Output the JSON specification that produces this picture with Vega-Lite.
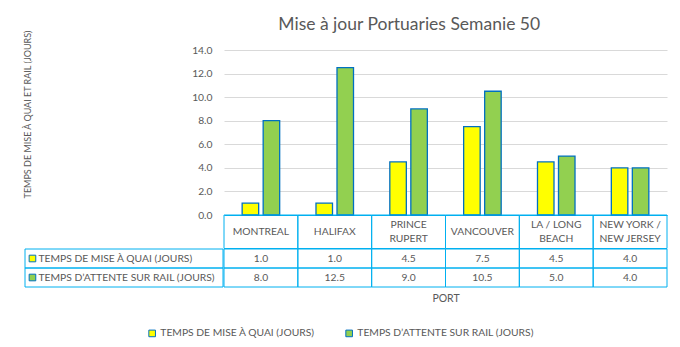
{
  "$schema": "https://vega.github.io/schema/vega-lite/v6.json",
  "padding": {"left": 23, "top": 15, "right": 10, "bottom": 5},
  "background": "white",
  "config": {
    "view": {"stroke": null},
    "font": "Lato",
    "text": {"font": "Lato"}
  },
  "datasets": {
    "ports": [
      {"port": "MONTREAL", "series": "TEMPS DE MISE À QUAI (JOURS)", "value": 1.0},
      {"port": "MONTREAL", "series": "TEMPS  D’ATTENTE SUR RAIL (JOURS)", "value": 8.0},
      {"port": "HALIFAX", "series": "TEMPS DE MISE À QUAI (JOURS)", "value": 1.0},
      {"port": "HALIFAX", "series": "TEMPS  D’ATTENTE SUR RAIL (JOURS)", "value": 12.5},
      {"port": "PRINCE RUPERT", "series": "TEMPS DE MISE À QUAI (JOURS)", "value": 4.5},
      {"port": "PRINCE RUPERT", "series": "TEMPS  D’ATTENTE SUR RAIL (JOURS)", "value": 9.0},
      {"port": "VANCOUVER", "series": "TEMPS DE MISE À QUAI (JOURS)", "value": 7.5},
      {"port": "VANCOUVER", "series": "TEMPS  D’ATTENTE SUR RAIL (JOURS)", "value": 10.5},
      {"port": "LA / LONG BEACH", "series": "TEMPS DE MISE À QUAI (JOURS)", "value": 4.5},
      {"port": "LA / LONG BEACH", "series": "TEMPS  D’ATTENTE SUR RAIL (JOURS)", "value": 5.0},
      {"port": "NEW YORK / NEW JERSEY", "series": "TEMPS DE MISE À QUAI (JOURS)", "value": 4.0},
      {"port": "NEW YORK / NEW JERSEY", "series": "TEMPS  D’ATTENTE SUR RAIL (JOURS)", "value": 4.0}
    ],
    "header": [
      {"port": "MONTREAL", "label": "MONTREAL"},
      {"port": "HALIFAX", "label": "HALIFAX"},
      {"port": "PRINCE RUPERT", "label": ["PRINCE", "RUPERT"]},
      {"port": "VANCOUVER", "label": "VANCOUVER"},
      {"port": "LA / LONG BEACH", "label": ["LA / LONG", "BEACH"]},
      {"port": "NEW YORK / NEW JERSEY", "label": ["NEW YORK /", "NEW JERSEY"]}
    ],
    "series": [
      {"series": "TEMPS DE MISE À QUAI (JOURS)"},
      {"series": "TEMPS  D’ATTENTE SUR RAIL (JOURS)"}
    ]
  },
  "title": {
    "text": "Mise à jour Portuaries Semanie 50",
    "font": "Lato",
    "fontSize": 17.5,
    "fontWeight": "normal",
    "color": "#595959",
    "anchor": "middle",
    "dx": 64,
    "offset": -3.5
  },
  "concat": [
    {
      "width": 199,
      "height": 165,
      "data": {"values": [{}]},
      "mark": {"type": "text"},
      "encoding": {"text": {"value": ""}}
    },
    {
      "width": 443,
      "height": 165,
      "data": {"name": "ports"},
      "mark": {"type": "bar", "stroke": "#0070C0", "strokeWidth": 1.3},
      "encoding": {
        "x": {
          "field": "port",
          "type": "nominal",
          "scale": {
            "domain": ["MONTREAL", "HALIFAX", "PRINCE RUPERT", "VANCOUVER", "LA / LONG BEACH", "NEW YORK / NEW JERSEY"],
            "paddingInner": 0,
            "paddingOuter": 0
          },
          "axis": {
            "title": null,
            "labels": false,
            "ticks": false,
            "domainColor": "#00B0F0",
            "grid": false
          }
        },
        "xOffset": {
          "field": "series",
          "type": "nominal",
          "scale": {
            "domain": ["TEMPS DE MISE À QUAI (JOURS)", "TEMPS  D’ATTENTE SUR RAIL (JOURS)"],
            "paddingInner": 0.214,
            "paddingOuter": 0.864
          }
        },
        "y": {
          "field": "value",
          "type": "quantitative",
          "scale": {"domain": [0, 14]},
          "axis": {
            "values": [0, 2, 4, 6, 8, 10, 12, 14],
            "format": ".1f",
            "domain": false,
            "ticks": false,
            "grid": true,
            "gridColor": "#D9D9D9",
            "labelPadding": 12,
            "labelFontSize": 10.3,
            "labelColor": "#595959",
            "title": "TEMPS DE MISE À QUAI ET RAIL (JOURS)",
            "titleFont": "Lato",
            "titleFontSize": 9,
            "titleFontWeight": "normal",
            "titleColor": "#595959",
            "titleX": -197,
            "titleY": 64,
            "titleAngle": -90,
            "titleAlign": "center",
            "titleBaseline": "middle"
          }
        },
        "color": {
          "field": "series",
          "type": "nominal",
          "scale": {
            "domain": ["TEMPS DE MISE À QUAI (JOURS)", "TEMPS  D’ATTENTE SUR RAIL (JOURS)"],
            "range": ["#FFFF00", "#92D050"]
          },
          "legend": {
            "title": null,
            "orient": "none",
            "direction": "horizontal",
            "legendX": 122,
            "legendY": 278,
            "symbolType": "square",
            "symbolSize": 44,
            "symbolStrokeColor": "#0070C0",
            "symbolStrokeWidth": 1,
            "symbolOpacity": 1,
            "labelColor": "#595959",
            "labelFontSize": 10.3,
            "labelFont": "Lato",
            "labelOffset": 3,
            "columnPadding": 28,
            "labelLimit": 400
          }
        }
      }
    },
    {
      "width": 199,
      "height": 33.5,
      "data": {"values": [{}]},
      "mark": {"type": "text"},
      "encoding": {"text": {"value": ""}}
    },
    {
      "width": 443,
      "height": 33.5,
      "data": {"name": "header"},
      "encoding": {
        "x": {
          "field": "port",
          "type": "nominal",
          "scale": {
            "domain": ["MONTREAL", "HALIFAX", "PRINCE RUPERT", "VANCOUVER", "LA / LONG BEACH", "NEW YORK / NEW JERSEY"],
            "paddingInner": 0,
            "paddingOuter": 0
          },
          "axis": null
        }
      },
      "layer": [
        {
          "mark": {"type": "rect", "fill": "transparent", "stroke": "#00B0F0", "strokeWidth": 1}
        },
        {
          "transform": [{"filter": "!isArray(datum.label)"}],
          "mark": {"type": "text", "color": "#595959", "fontSize": 10.3, "font": "Lato", "baseline": "middle"},
          "encoding": {"text": {"field": "label"}}
        },
        {
          "transform": [{"filter": "isArray(datum.label)"}],
          "mark": {"type": "text", "color": "#595959", "fontSize": 10.3, "font": "Lato", "baseline": "middle", "lineHeight": 14.5, "dy": -7.25},
          "encoding": {"text": {"field": "label"}}
        }
      ]
    },
    {
      "width": 199,
      "height": 38,
      "data": {"name": "series"},
      "encoding": {
        "y": {
          "field": "series",
          "type": "nominal",
          "scale": {
            "domain": ["TEMPS DE MISE À QUAI (JOURS)", "TEMPS  D’ATTENTE SUR RAIL (JOURS)"],
            "paddingInner": 0,
            "paddingOuter": 0
          },
          "axis": null
        }
      },
      "layer": [
        {
          "mark": {"type": "rect", "fill": "transparent", "stroke": "#00B0F0", "strokeWidth": 1},
          "encoding": {
            "x": {"datum": 0, "type": "quantitative", "scale": {"domain": [0, 199]}, "axis": null},
            "x2": {"datum": 199}
          }
        },
        {
          "mark": {"type": "point", "shape": "square", "filled": true, "size": 44, "stroke": "#0070C0", "strokeWidth": 1, "opacity": 1},
          "encoding": {
            "x": {"datum": 7.5, "type": "quantitative"},
            "color": {"field": "series", "type": "nominal"}
          }
        },
        {
          "mark": {"type": "text", "align": "left", "color": "#595959", "fontSize": 10.3, "font": "Lato"},
          "encoding": {
            "x": {"datum": 13.5, "type": "quantitative"},
            "text": {"field": "series"}
          }
        }
      ]
    },
    {
      "width": 443,
      "height": 38,
      "data": {"name": "ports"},
      "encoding": {
        "x": {
          "field": "port",
          "type": "nominal",
          "scale": {
            "domain": ["MONTREAL", "HALIFAX", "PRINCE RUPERT", "VANCOUVER", "LA / LONG BEACH", "NEW YORK / NEW JERSEY"],
            "paddingInner": 0,
            "paddingOuter": 0
          },
          "axis": {
            "title": "PORT",
            "labels": false,
            "ticks": false,
            "domain": false,
            "grid": false,
            "titlePadding": 6,
            "titleFont": "Lato",
            "titleFontSize": 10.5,
            "titleFontWeight": "normal",
            "titleColor": "#595959"
          }
        },
        "y": {
          "field": "series",
          "type": "nominal",
          "scale": {
            "domain": ["TEMPS DE MISE À QUAI (JOURS)", "TEMPS  D’ATTENTE SUR RAIL (JOURS)"],
            "paddingInner": 0,
            "paddingOuter": 0
          },
          "axis": null
        }
      },
      "layer": [
        {
          "mark": {"type": "rect", "fill": "transparent", "stroke": "#00B0F0", "strokeWidth": 1}
        },
        {
          "mark": {"type": "text", "color": "#595959", "fontSize": 10.3, "font": "Lato"},
          "encoding": {"text": {"field": "value", "type": "quantitative", "format": ".1f"}}
        }
      ]
    }
  ],
  "columns": 2,
  "spacing": 0,
  "align": "each",
  "bounds": "flush"
}
